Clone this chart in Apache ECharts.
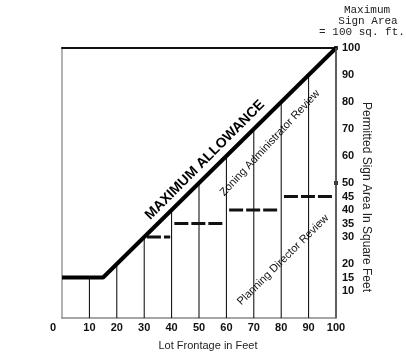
<!DOCTYPE html>
<html><head><meta charset="utf-8">
<script src="https://cdn.jsdelivr.net/npm/echarts@6/dist/echarts.min.js"></script>
<style>html,body{margin:0;padding:0;background:#fff}#c{width:406px;height:356px}</style>
</head><body><div id="c"></div>
<script>
// ---- data ----
var xTicks = [0,10,20,30,40,50,60,70,80,90,100];
var yTickLabels = [10,15,20,30,35,40,45,50,60,70,80,90,100];
var maxAllowance = [[0,15],[15,15],[100,100]];          // MAXIMUM ALLOWANCE line
var verticalX = [10,20,30,40,50,60,70,80,90];            // frontage grid lines
var verticalTop = [15,20,30,40,50,60,70,80,90];          // each reaches the allowance line
var dashStart = [30,40,60,80];
var dashEnd   = [40,60,80,100];
var dashLevel = [30,35,40,45];                            // Planning Director limits
var markerPts = [[100,100],[100,50]];

var F = '"Liberation Sans", Arial, sans-serif';
var M = '11px "Liberation Mono", "Courier New", monospace';
var chart = echarts.init(document.getElementById('c'), null, {renderer:'canvas'});

var series = [];
series.push({
  type:'bar', barWidth:1, silent:true, z:2,
  itemStyle:{color:'#000'},
  data: verticalX.map(function(x,i){return [x, verticalTop[i]];})
});
for (var i=0;i<dashStart.length;i++){
  series.push({
    type:'line', symbol:'none', silent:true, z:3,
    lineStyle:{color:'#111', width:3, type:[14,3]},
    data:[[dashStart[i]+1, dashLevel[i]],[dashEnd[i]-0.5, dashLevel[i]]]
  });
}
series.push({
  type:'line', symbol:'none', silent:true, z:4, clip:false,
  lineStyle:{color:'#000', width:4},
  data: maxAllowance
});
series.push({
  type:'scatter', symbol:'rect', symbolSize:4, silent:true, z:5, clip:false,
  itemStyle:{color:'#000'},
  data: markerPts
});

chart.setOption({
  animation:false,
  grid:{left:62, right:70, top:48, bottom:37, show:false},
  xAxis:[{
    type:'value', min:0, max:100, interval:10, position:'bottom',
    axisLine:{show:true, onZero:false, lineStyle:{color:'#888', width:1.5}},
    axisTick:{show:false}, splitLine:{show:false},
    axisLabel:{
      margin:4, color:'#111', fontFamily:F, fontWeight:'bold', fontSize:11,
      customValues: xTicks,
      formatter:function(v){ return v===0 ? '{z|0}' : String(v); },
      rich:{z:{padding:[0,18,0,0], color:'#111', fontFamily:F, fontWeight:'bold', fontSize:11}}
    },
    name:'Lot Frontage in Feet', nameLocation:'middle', nameGap:22,
    nameTextStyle:{color:'#222', fontFamily:F, fontSize:11, padding:[0,0,0,18]}
  },{
    type:'value', min:0, max:100, position:'top',
    axisLine:{show:true, onZero:false, lineStyle:{color:'#111', width:2}},
    axisTick:{show:false}, axisLabel:{show:false}, splitLine:{show:false}
  }],
  yAxis:[{
    type:'value', min:0, max:100, position:'right',
    axisLine:{show:true, onZero:false, lineStyle:{color:'#555', width:1.5}},
    axisTick:{show:false}, splitLine:{show:false},
    axisLabel:{margin:6, color:'#111', fontFamily:F, fontWeight:'bold', fontSize:11,
      customValues: yTickLabels}
  },{
    type:'value', min:0, max:100, position:'left',
    axisLine:{show:true, onZero:false, lineStyle:{color:'#999', width:1.5}},
    axisTick:{show:false}, axisLabel:{show:false}, splitLine:{show:false}
  }],
  series: series,
  graphic:[
    {type:'text', x:367, y:10, style:{text:'Maximum', fill:'#222', font:M, textAlign:'center', textVerticalAlign:'middle'}},
    {type:'text', x:368, y:21, style:{text:'Sign Area', fill:'#222', font:M, textAlign:'center', textVerticalAlign:'middle'}},
    {type:'text', x:362, y:32, style:{text:'= 100 sq. ft.', fill:'#222', font:M, textAlign:'center', textVerticalAlign:'middle'}},
    {type:'text', x:366, y:197, rotation:-Math.PI/2, style:{text:'Permitted Sign Area In Square Feet', fill:'#222',
      font:'12px '+F, textAlign:'center', textVerticalAlign:'middle'}},
    {type:'text', x:205, y:160, rotation:Math.PI/4, style:{text:'MAXIMUM ALLOWANCE', fill:'#000',
      font:'bold 14px '+F, textAlign:'center', textVerticalAlign:'middle'}},
    {type:'text', x:270, y:143, rotation:0.82, style:{text:'Zoning Administrator Review', fill:'#111',
      font:'11px '+F, textAlign:'center', textVerticalAlign:'middle'}},
    {type:'text', x:283, y:260, rotation:0.78, style:{text:'Planning Director Review', fill:'#111',
      font:'11px '+F, textAlign:'center', textVerticalAlign:'middle'}}
  ]
});

// right frame edge, positioned through the chart's own scales
var pA = chart.convertToPixel({xAxisIndex:0, yAxisIndex:0}, [100, 0]);
var pB = chart.convertToPixel({xAxisIndex:0, yAxisIndex:0}, [100, 100]);
chart.setOption({graphic:[{id:'rightEdge', type:'line', z:100,
  shape:{x1:pA[0], y1:pA[1], x2:pB[0], y2:pB[1]},
  style:{stroke:'#555', lineWidth:1.5}}]});
</script></body></html>
